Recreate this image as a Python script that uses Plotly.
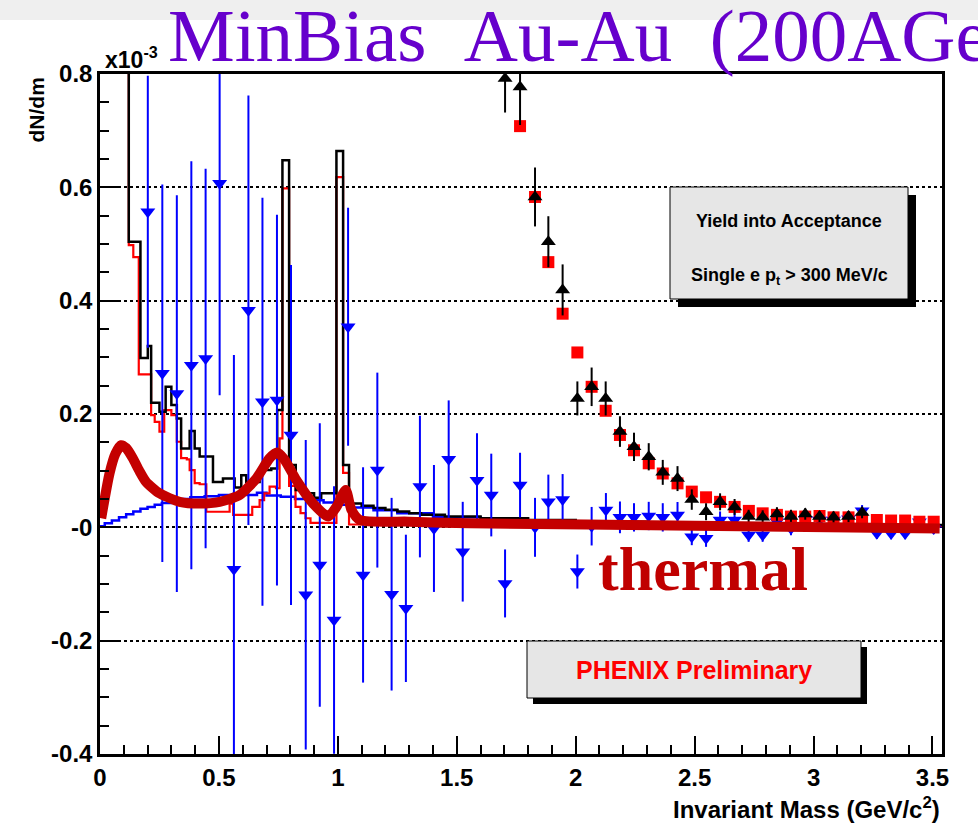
import plotly.graph_objects as go

# ---------------- data (y in units of 1e-3) ----------------
black_edges = [0.0, 0.121, 0.170, 0.201, 0.215, 0.250, 0.276, 0.300, 0.323, 0.341, 0.377, 0.398, 0.419,
               0.475, 0.517, 0.566, 0.594, 0.615, 0.671, 0.720, 0.745, 0.767, 0.795, 0.823, 0.85, 0.90,
               0.93, 0.994, 1.022, 1.047, 1.10, 1.15, 1.20, 1.25, 1.30, 1.35, 1.45, 1.60, 1.80, 2.00,
               2.30, 2.60, 3.00, 3.54]
black_vals = [3.0, 0.504, 0.299, 0.320, 0.220, 0.204, 0.248, 0.216, 0.192, 0.139, 0.170, 0.139, 0.125,
              0.080, 0.086, 0.0705, 0.092, 0.080, 0.101, 0.104, 0.207, 0.648, 0.110, 0.066, 0.060, 0.052,
              0.060, 0.664, 0.110, 0.042, 0.038, 0.034, 0.031, 0.028, 0.025, 0.022, 0.019, 0.016, 0.013,
              0.010, 0.008, 0.006, 0.004]

red_edges = [0.0, 0.121, 0.140, 0.163, 0.215, 0.230, 0.250, 0.270, 0.300, 0.323, 0.341, 0.365, 0.377,
             0.398, 0.419, 0.447, 0.545, 0.560, 0.640, 0.671, 0.690, 0.713, 0.740, 0.755, 0.767, 0.795,
             0.822, 0.843, 0.864, 0.885, 0.994, 1.022, 1.047, 1.50, 3.54]
red_vals = [3.0, 0.498, 0.477, 0.270, 0.198, 0.186, 0.169, 0.207, 0.198, 0.151, 0.122, 0.120, 0.101,
            0.078, 0.076, 0.0275, 0.042, 0.022, 0.036, 0.048, 0.060, 0.072, 0.069, 0.157, 0.598, 0.073,
            0.036, 0.025, 0.016, 0.008, 0.618, 0.096, 0.005, 0.003]

blue_edges = [0.0, 0.02, 0.05, 0.08, 0.11, 0.14, 0.17, 0.20, 0.23, 0.26, 0.30, 0.34, 0.38, 0.44, 0.50,
              0.56, 0.62, 0.66, 0.70, 0.76, 0.82, 0.88, 0.94, 1.00, 1.06, 1.15, 1.25, 1.40, 1.60, 1.90,
              2.30, 2.80, 3.54]
blue_vals = [0.002, 0.007, 0.012, 0.018, 0.023, 0.028, 0.033, 0.036, 0.040, 0.043, 0.047, 0.050, 0.053,
             0.055, 0.057, 0.059, 0.057, 0.061, 0.056, 0.054, 0.050, 0.048, 0.044, 0.040, 0.035, 0.030,
             0.025, 0.018, 0.012, 0.007, 0.004, 0.002]

thermal_x = [0.005, 0.040, 0.065, 0.089, 0.110, 0.138, 0.165, 0.194, 0.250, 0.335, 0.419, 0.503, 0.587,
             0.657, 0.713, 0.745, 0.775, 0.826, 0.896, 0.959, 0.994, 1.033, 1.057, 1.092, 1.30, 1.555,
             2.50, 3.53]
thermal_y = [0.016, 0.095, 0.130, 0.145, 0.140, 0.122, 0.100, 0.080, 0.060, 0.045, 0.042, 0.045, 0.057,
             0.086, 0.122, 0.132, 0.120, 0.083, 0.042, 0.019, 0.036, 0.066, 0.031, 0.013, 0.010, 0.007,
             0.003, -0.002]

blue_x = [0.201, 0.262, 0.323, 0.384, 0.444, 0.503, 0.563, 0.624, 0.683, 0.744, 0.803, 0.865, 0.924,
          0.984, 1.043, 1.106, 1.166, 1.226, 1.286, 1.345, 1.404, 1.466, 1.525, 1.585, 1.645, 1.703,
          1.766, 1.829, 1.885, 1.945, 2.007, 2.067, 2.127, 2.186, 2.245, 2.307, 2.366, 2.428, 2.488,
          2.548, 2.607, 2.668, 2.727, 2.786, 2.846, 2.905, 2.965, 3.025, 3.084, 3.147, 3.204, 3.266,
          3.326, 3.385, 3.445, 3.505]
blue_y = [0.557, 0.272, 0.236, 0.286, 0.298, 0.607, -0.074, 0.383, 0.2215, 0.2245, 0.163, -0.119, -0.0665,
          -0.1635, 0.354, -0.084, 0.101, -0.118, -0.143, 0.072, -0.002, 0.120, -0.043, 0.083, 0.057, -0.099,
          0.0746, 0.000, 0.045, 0.049, -0.078, 0.002, 0.0305, 0.0176, 0.0176, 0.020, 0.0176, 0.0217, -0.0165,
          -0.0194, 0.013, 0.013, -0.0136, -0.0136, 0.010, -0.002, 0.014, 0.013, 0.013, 0.015, 0.0293, -0.0106,
          -0.011, -0.011, 0.0099, -0.002]
blue_err = [0.24, 0.333, 0.35, 0.36, 0.335, 0.374, 0.378, 0.379, 0.36, 0.327, 0.30, 0.273, 0.25,
            0.236, 0.21, 0.19, 0.172, 0.17, 0.13, 0.125, 0.112, 0.104, 0.088, 0.083, 0.073, 0.06,
            0.057, 0.052, 0.048, 0.045, 0.03, 0.034, 0.03, 0.028, 0.025, 0.025, 0.025, 0.023, 0.015,
            0.015, 0.015, 0.015, 0.012, 0.012, 0.012, 0.012, 0.012, 0.01, 0.01, 0.01, 0.01, 0.01,
            0.01, 0.01, 0.01, 0.01]

black_x = [1.703, 1.766, 1.829, 1.885, 1.945, 2.007, 2.067, 2.126, 2.186, 2.245, 2.307, 2.366, 2.428,
           2.488, 2.548, 2.607, 2.668, 2.727, 2.786, 2.846, 2.905, 2.965, 3.025, 3.084, 3.147, 3.204]
black_y = [0.792, 0.777, 0.583, 0.504, 0.419, 0.2275, 0.248, 0.2275, 0.169, 0.142, 0.1245, 0.097, 0.086,
           0.049, 0.0275, 0.045, 0.036, 0.019, 0.018, 0.0235, 0.019, 0.0235, 0.019, 0.018, 0.019, 0.026]
black_err = [0.06, 0.067, 0.052, 0.045, 0.045, 0.03, 0.034, 0.03, 0.027, 0.025, 0.024, 0.022, 0.022,
             0.018, 0.015, 0.015, 0.014, 0.012, 0.012, 0.012, 0.012, 0.01, 0.01, 0.01, 0.01, 0.01]

red_x = [1.766, 1.829, 1.885, 1.945, 2.007, 2.067, 2.126, 2.186, 2.245, 2.307, 2.366, 2.428, 2.488,
         2.548, 2.607, 2.668, 2.728, 2.786, 2.846, 2.905, 2.965, 3.025, 3.084, 3.147, 3.204, 3.266,
         3.326, 3.385, 3.445, 3.505]
red_y = [0.708, 0.583, 0.468, 0.377, 0.3086, 0.248, 0.2057, 0.163, 0.136, 0.113, 0.095, 0.0776, 0.063,
         0.053, 0.045, 0.036, 0.029, 0.0247, 0.022, 0.019, 0.019, 0.020, 0.0176, 0.0176, 0.014, 0.013,
         0.012, 0.012, 0.0099, 0.0099]

y_tickvals = [0.8, 0.6, 0.4, 0.2, 0.0, -0.2, -0.4]
y_ticktext = ["0.8", "0.6", "0.4", "0.2", "-0", "-0.2", "-0.4"]
x_tickvals = [0, 0.5, 1, 1.5, 2, 2.5, 3, 3.5]
x_ticktext = ["0", "0.5", "1", "1.5", "2", "2.5", "3", "3.5"]

# ---------------- geometry ----------------
W, H = 978, 829
L, R, T, B = 100, 36, 74, 75
PW, PH = W - L - R, H - T - B


def px(xp):
    return (xp - L) / PW


def py(yp):
    return (H - B - yp) / PH


def steps(edges, vals):
    return list(edges), list(vals) + [vals[-1]]


SANS = "Liberation Sans, Arial, Helvetica, sans-serif"
SERIF = "Liberation Serif, Times New Roman, serif"

fig = go.Figure()

for edges, vals, col, w in [(blue_edges, blue_vals, "#0000ff", 2.5),
                            (red_edges, red_vals, "#ff0000", 2.2),
                            (black_edges, black_vals, "#000000", 2.5)]:
    sx, sy = steps(edges, vals)
    fig.add_trace(go.Scatter(x=sx, y=sy, mode="lines", line=dict(shape="hv", color=col, width=w),
                             hoverinfo="skip"))

fig.add_trace(go.Scatter(x=blue_x, y=blue_y, mode="markers",
                         marker=dict(symbol="triangle-down", size=13, color="#0000ff"),
                         error_y=dict(type="data", array=blue_err, color="#0000ff", thickness=2, width=0)))
fig.add_trace(go.Scatter(x=red_x, y=red_y, mode="markers",
                         marker=dict(symbol="square", size=12, color="#ff0000")))
fig.add_trace(go.Scatter(x=black_x, y=black_y, mode="markers",
                         marker=dict(symbol="triangle-up", size=13, color="#000000"),
                         error_y=dict(type="data", array=black_err, color="#000000", thickness=2, width=0)))
fig.add_trace(go.Scatter(x=thermal_x, y=thermal_y, mode="lines",
                         line=dict(shape="spline", smoothing=0.6, color="#c40000", width=10)))

shapes = [
    dict(type="rect", xref="paper", yref="paper", x0=px(0), x1=px(W), y0=py(0), y1=py(20),
         fillcolor="#efefef", line=dict(width=0), layer="below"),
    # Yield box
    dict(type="rect", xref="paper", yref="paper", x0=px(678), x1=px(916), y0=py(195), y1=py(307),
         fillcolor="#000000", line=dict(width=0)),
    dict(type="rect", xref="paper", yref="paper", x0=px(670), x1=px(908), y0=py(187), y1=py(299),
         fillcolor="#e6e6e6", line=dict(color="#000000", width=1)),
    # PHENIX box
    dict(type="rect", xref="paper", yref="paper", x0=px(533), x1=px(867), y0=py(647), y1=py(704),
         fillcolor="#000000", line=dict(width=0)),
    dict(type="rect", xref="paper", yref="paper", x0=px(527), x1=px(861), y0=py(641), y1=py(698),
         fillcolor="#e6e6e6", line=dict(color="#000000", width=1)),
]

annotations = [
    dict(text="MinBias\u00a0\u00a0Au-Au\u00a0\u00a0(200AGeV)", xref="paper", yref="paper",
         x=px(166), y=py(36), xanchor="left", yanchor="middle", showarrow=False,
         font=dict(family=SERIF, size=75, color="#6600cc")),
    dict(text="x10<sup>-3</sup>", xref="paper", yref="paper", x=px(103), y=py(75),
         xanchor="left", yanchor="bottom", showarrow=False,
         font=dict(family=SANS, size=23, color="#000000", weight="bold")),
    dict(text="dN/dm", xref="paper", yref="paper", x=px(36), y=py(76), textangle=-90,
         xanchor="center", yanchor="top", showarrow=False,
         font=dict(family=SANS, size=21, color="#000000", weight="bold")),
    dict(text="Invariant Mass (GeV/c<sup>2</sup>)", xref="paper", yref="paper", x=px(942), y=py(808),
         xanchor="right", yanchor="middle", showarrow=False,
         font=dict(family=SANS, size=24, color="#000000", weight="bold")),
    dict(text="Yield into Acceptance", xref="paper", yref="paper", x=px(789), y=py(221),
         xanchor="center", yanchor="middle", showarrow=False,
         font=dict(family=SANS, size=18, color="#000000", weight="bold")),
    dict(text="Single e p<sub>t</sub> > 300 MeV/c", xref="paper", yref="paper", x=px(789), y=py(276),
         xanchor="center", yanchor="middle", showarrow=False,
         font=dict(family=SANS, size=18, color="#000000", weight="bold")),
    dict(text="PHENIX Preliminary", xref="paper", yref="paper", x=px(694), y=py(670),
         xanchor="center", yanchor="middle", showarrow=False,
         font=dict(family=SANS, size=25, color="#ff0000", weight="bold")),
    dict(text="thermal", xref="paper", yref="paper", x=px(596), y=py(569),
         xanchor="left", yanchor="middle", showarrow=False,
         font=dict(family=SERIF, size=62, color="#c00000", weight="bold")),
]

fig.update_layout(
    width=W, height=H, margin=dict(l=L, r=R, t=T, b=B, pad=0),
    paper_bgcolor="white", plot_bgcolor="white", showlegend=False,
    shapes=shapes, annotations=annotations,
    xaxis=dict(range=[0, 3.54], tickmode="array", tickvals=x_tickvals, ticktext=x_ticktext,
               ticks="inside", ticklen=18, tickwidth=2, tickcolor="#000000",
               minor=dict(tickmode="linear", tick0=0, dtick=0.1, ticks="inside", ticklen=9,
                          tickwidth=2, tickcolor="#000000", showgrid=False),
               showline=True, linewidth=2.5, linecolor="#000000", mirror=True,
               showgrid=False, zeroline=False,
               tickfont=dict(family=SANS, size=24, color="#000000", weight="bold")),
    yaxis=dict(range=[-0.4, 0.8], tickmode="array", tickvals=y_tickvals, ticktext=y_ticktext,
               ticks="inside", ticklen=18, tickwidth=2, tickcolor="#000000",
               minor=dict(tickmode="linear", tick0=0, dtick=0.05, ticks="inside", ticklen=9,
                          tickwidth=2, tickcolor="#000000", showgrid=False),
               showline=True, linewidth=2.5, linecolor="#000000", mirror=True,
               showgrid=True, gridcolor="#000000", griddash="dot", gridwidth=1.5,
               zeroline=False,
               tickfont=dict(family=SANS, size=24, color="#000000", weight="bold")),
)

fig.write_html("out.html", config={"displayModeBar": False},
               post_script="document.body.style.margin='0px';document.body.style.overflow='hidden';")
